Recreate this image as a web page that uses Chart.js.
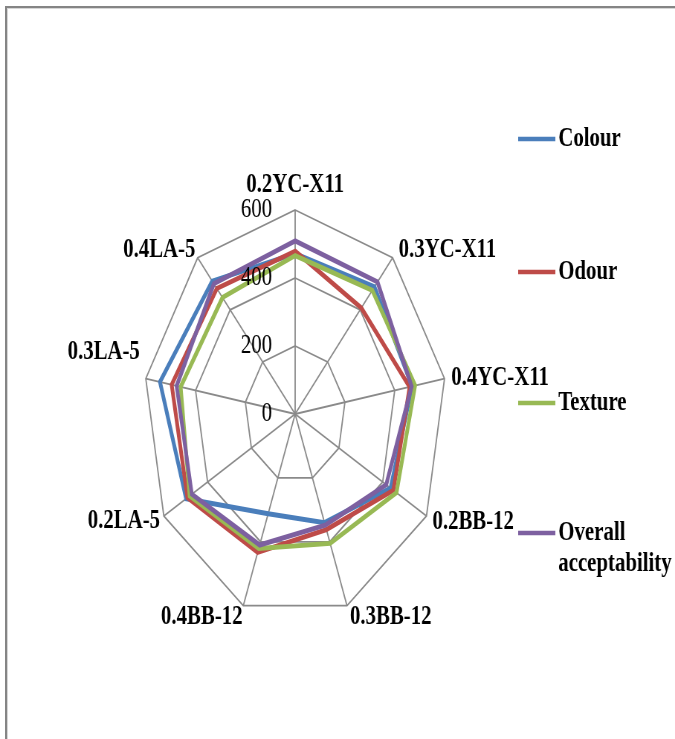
<!DOCTYPE html>
<html>
<head>
<meta charset="utf-8">
<script src="https://cdn.jsdelivr.net/npm/chart.js@4/dist/chart.umd.min.js"></script>
<style>
  html, body { margin: 0; padding: 0; background: #fff; overflow: hidden; }
  #frame {
    position: absolute; left: 5px; top: 6px; width: 720px; height: 760px;
    border-left: 2px solid #858585; border-top: 2px solid #858585;
    box-shadow: inset 1px 1px 0 #d6d6d6;
  }
  /* the chart is laid out on a wider canvas and condensed horizontally */
  #wrap {
    position: absolute; left: 0; top: 0; width: 908px; height: 739px;
    transform: scaleX(0.7434); transform-origin: 0 0;
  }
</style>
</head>
<body>
<div id="frame"></div>
<div id="wrap"><canvas id="c" width="908" height="739"></canvas></div>
<script>
// Sensory scores per sample
const categories = ['0.2YC-X11', '0.3YC-X11', '0.4YC-X11', '0.2BB-12', '0.3BB-12', '0.4BB-12', '0.2LA-5', '0.3LA-5', '0.4LA-5'];
const colour  = [472, 488, 470, 436, 340, 312, 498, 543, 510];
const odour   = [479, 407, 460, 449, 362, 433, 492, 496, 482];
const texture = [466, 475, 482, 463, 405, 421, 482, 460, 447];
const overall = [509, 507, 468, 416, 348, 410, 472, 476, 500];
const seriesNames = ['Colour', 'Odour', 'Texture', 'Overall acceptability'];
const tickValues = [0, 200, 400, 600];

const palette = ['#4a7ebb', '#be4b48', '#98b954', '#7d60a0'];
const serif = '"Liberation Serif", "Times New Roman", serif';

// label placement around each outer vertex: [textAlign, dx, dy]
const labelPlace = [
  ['center', 0, -25], ['left', 8, -8], ['left', 9, -1], ['left', 8, 6], ['left', 4, 11],
  ['right', -1, 11], ['right', -5, 5], ['right', -8, -27], ['right', -3, -8]
];

const radarText = {
  id: 'radarText',
  afterDraw(chart) {
    const ctx = chart.ctx;
    const s = chart.scales.r;
    ctx.save();
    ctx.fillStyle = '#000';
    ctx.textBaseline = 'middle';

    // value ticks, set to the left of the vertical axis
    ctx.font = '28px ' + serif;
    ctx.textAlign = 'right';
    s.ticks.forEach(t => {
      const d = s.getDistanceFromCenterForValue(t.value);
      ctx.fillText(String(t.value), s.xCenter - 31, s.yCenter - d);
    });

    // category names
    ctx.font = 'bold 28px ' + serif;
    chart.data.labels.forEach((lab, i) => {
      const p = s.getPointPosition(i, s.drawingArea);
      const [al, dx, dy] = labelPlace[i];
      ctx.textAlign = al;
      ctx.fillText(lab, p.x + dx, p.y + dy);
    });

    // legend
    const rows = [139, 272, 403, 533];
    ctx.textAlign = 'left';
    chart.data.datasets.forEach((ds, i) => {
      const y = rows[i];
      ctx.strokeStyle = ds.borderColor;
      ctx.lineWidth = 4.5;
      ctx.beginPath();
      ctx.moveTo(697, y);
      ctx.lineTo(747, y);
      ctx.stroke();
      const words = ds.label.split(' ');
      words.forEach((w, k) => ctx.fillText(w, 751, y + k * 31));
    });
    ctx.restore();
  }
};

const series = [colour, odour, texture, overall];
new Chart(document.getElementById('c'), {
  type: 'radar',
  data: {
    labels: categories,
    datasets: series.map((vals, i) => ({
      label: seriesNames[i],
      data: vals,
      borderColor: palette[i],
      backgroundColor: 'transparent',
      borderWidth: 5,
      fill: false,
      pointRadius: 0,
      pointHoverRadius: 0,
      order: series.length - i
    }))
  },
  options: {
    responsive: false,
    animation: false,
    devicePixelRatio: 1,
    layout: { padding: { left: 193, top: 210, right: 307, bottom: 121 } },
    plugins: { legend: { display: false }, tooltip: { enabled: false } },
    elements: { line: { tension: 0, borderJoinStyle: 'miter' } },
    scales: {
      r: {
        min: 0,
        max: 600,
        startAngle: 0,
        afterBuildTicks: scale => { scale.ticks = tickValues.map(v => ({ value: v })); },
        ticks: { display: false, stepSize: 200 },
        grid: { color: '#8a8a8a', lineWidth: 1.8 },
        angleLines: { color: '#8a8a8a', lineWidth: 1.8 },
        pointLabels: { display: false }
      }
    }
  },
  plugins: [radarText]
});
</script>
</body>
</html>
